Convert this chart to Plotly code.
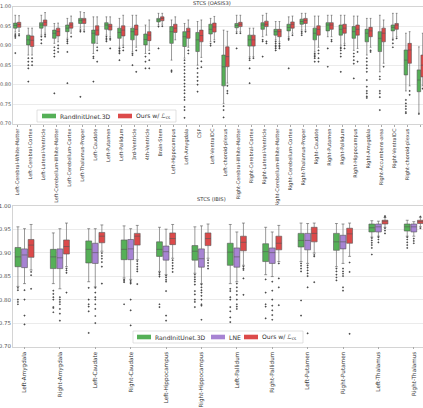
import plotly.graph_objects as go

W, H = 423, 408

# ---- STCS (OASIS3) ----
oasis_labels = ['Left-Cerebral-White-Matter', 'Left-Cerebral-Cortex', 'Left-Lateral-Ventricle',
                'Left-Cerebellum-White-Matter', 'Left-Cerebellum-Cortex', 'Left-Thalamus-Proper',
                'Left-Caudate', 'Left-Putamen', 'Left-Pallidum', '3rd-Ventricle', '4th-Ventricle',
                'Brain-Stem', 'Left-Hippocampus', 'Left-Amygdala', 'CSF', 'Left-VentralDC',
                'Left-choroid-plexus', 'Right-Cerebral-White-Matter', 'Right-Cerebral-Cortex',
                'Right-Lateral-Ventricle', 'Right-Cerebellum-White-Matter', 'Right-Cerebellum-Cortex',
                'Right-Thalamus-Proper', 'Right-Caudate', 'Right-Putamen', 'Right-Pallidum',
                'Right-Hippocampus', 'Right-Amygdala', 'Right-Accumbens-area', 'Right-VentralDC',
                'Right-choroid-plexus', 'WM-hypointensities']

oasis_rand_lo = [0.935, 0.876, 0.927, 0.906, 0.919, 0.945, 0.880, 0.927, 0.896, 0.884, 0.880, 0.953, 0.863, 0.868, 0.850, 0.910,
                 0.752, 0.936, 0.872, 0.923, 0.915, 0.923, 0.940, 0.884, 0.923, 0.901, 0.888, 0.876, 0.833, 0.919, 0.784, 0.727]
oasis_rand_q1 = [0.945, 0.902, 0.945, 0.919, 0.936, 0.957, 0.906, 0.942, 0.919, 0.915, 0.902, 0.961, 0.906, 0.898, 0.885, 0.930,
                 0.797, 0.946, 0.899, 0.942, 0.927, 0.938, 0.955, 0.915, 0.938, 0.927, 0.919, 0.910, 0.885, 0.938, 0.825, 0.782]
oasis_rand_med = [0.952, 0.915, 0.953, 0.932, 0.945, 0.965, 0.932, 0.953, 0.934, 0.936, 0.916, 0.966, 0.936, 0.923, 0.915, 0.942,
                  0.846, 0.952, 0.915, 0.953, 0.936, 0.947, 0.962, 0.932, 0.953, 0.942, 0.936, 0.932, 0.919, 0.947, 0.863, 0.812]
oasis_rand_q3 = [0.958, 0.927, 0.959, 0.940, 0.953, 0.970, 0.940, 0.959, 0.945, 0.945, 0.930, 0.970, 0.949, 0.936, 0.934, 0.955,
                 0.876, 0.957, 0.927, 0.959, 0.942, 0.955, 0.968, 0.945, 0.959, 0.953, 0.949, 0.942, 0.936, 0.953, 0.889, 0.838]
oasis_rand_hi = [0.978, 0.945, 0.978, 0.957, 0.970, 0.987, 0.974, 0.974, 0.970, 0.978, 0.953, 0.983, 0.966, 0.957, 0.962, 0.970,
                 0.940, 0.978, 0.945, 0.978, 0.962, 0.974, 0.983, 0.976, 0.978, 0.978, 0.976, 0.970, 0.978, 0.983, 0.932, 0.897]
oasis_rand_out = [[0.930, 0.927, 0.924, 0.920, 0.881], [0.868, 0.859, 0.850, 0.842, 0.808], [0.923, 0.915, 0.906],
                  [0.896, 0.888, 0.880, 0.872, 0.778], [0.915, 0.911, 0.906, 0.884, 0.804], [0.940, 0.936, 0.769],
                  [0.872, 0.868, 0.808], [0.923, 0.919, 0.915, 0.911], [0.893, 0.888, 0.884, 0.880, 0.863],
                  [0.880, 0.876, 0.850], [0.872, 0.859, 0.842], [0.949, 0.893], [0.837, 0.833],
                  [0.863, 0.855, 0.846, 0.838, 0.829, 0.820, 0.812, 0.803, 0.795, 0.786, 0.778, 0.768, 0.761, 0.743, 0.735, 0.715],
                  [0.842, 0.830, 0.820, 0.810, 0.800, 0.782], [0.905, 0.900], [0.745, 0.735, 0.716], [0.932, 0.893],
                  [0.868, 0.863, 0.842, 0.804], [0.915, 0.911, 0.872], [0.911, 0.906, 0.901, 0.897, 0.893, 0.888],
                  [0.919, 0.915, 0.842], [0.936, 0.932, 0.927], [0.880, 0.876, 0.872, 0.868, 0.859], [0.893, 0.846],
                  [0.896, 0.893, 0.888, 0.880, 0.872, 0.833], [0.880, 0.872, 0.863, 0.854, 0.816],
                  [0.868, 0.859, 0.850, 0.842, 0.833, 0.812, 0.795, 0.784, 0.778, 0.770, 0.766],
                  [0.821, 0.814, 0.784, 0.778, 0.768, 0.735], [0.915, 0.906, 0.896],
                  [0.761, 0.752, 0.745, 0.738, 0.730, 0.727], [0.725]]

oasis_ours_lo = [0.937, 0.876, 0.932, 0.910, 0.932, 0.940, 0.906, 0.923, 0.901, 0.896, 0.888, 0.955, 0.915, 0.896, 0.870, 0.915,
                 0.804, 0.936, 0.872, 0.927, 0.911, 0.932, 0.940, 0.896, 0.923, 0.906, 0.893, 0.896, 0.855, 0.923, 0.797, 0.797]
oasis_ours_q1 = [0.947, 0.898, 0.951, 0.925, 0.945, 0.957, 0.927, 0.940, 0.925, 0.927, 0.913, 0.964, 0.934, 0.919, 0.910, 0.935,
                 0.846, 0.949, 0.899, 0.949, 0.923, 0.945, 0.957, 0.927, 0.942, 0.932, 0.927, 0.923, 0.910, 0.942, 0.855, 0.820]
oasis_ours_med = [0.954, 0.914, 0.960, 0.936, 0.953, 0.966, 0.940, 0.949, 0.940, 0.942, 0.927, 0.970, 0.945, 0.936, 0.926, 0.948,
                  0.872, 0.955, 0.915, 0.955, 0.936, 0.955, 0.965, 0.942, 0.953, 0.945, 0.942, 0.938, 0.932, 0.953, 0.889, 0.850]
oasis_ours_q3 = [0.960, 0.925, 0.966, 0.945, 0.959, 0.970, 0.951, 0.955, 0.951, 0.953, 0.936, 0.974, 0.955, 0.945, 0.940, 0.958,
                 0.897, 0.960, 0.927, 0.963, 0.942, 0.961, 0.970, 0.951, 0.959, 0.955, 0.953, 0.947, 0.945, 0.957, 0.906, 0.876]
oasis_ours_hi = [0.977, 0.945, 0.985, 0.958, 0.976, 0.985, 0.974, 0.974, 0.978, 0.978, 0.966, 0.983, 0.974, 0.966, 0.966, 0.975,
                 0.937, 0.978, 0.945, 0.983, 0.962, 0.976, 0.983, 0.976, 0.978, 0.978, 0.976, 0.970, 0.966, 0.983, 0.936, 0.932]
oasis_ours_out = [[0.930, 0.926], [0.868, 0.859, 0.850], [0.928, 0.923], [0.901, 0.893, 0.884], [0.923], [0.936],
                  [0.896, 0.888, 0.859], [0.919, 0.915, 0.893], [0.896, 0.888], [0.888, 0.833], [0.880, 0.863, 0.842],
                  [0.950], [], [0.888, 0.880], [0.860, 0.845], [0.910], [0.797, 0.784, 0.778], [0.932], [0.868],
                  [0.911, 0.906], [0.906, 0.901, 0.897, 0.893], [0.927], [0.936], [0.888, 0.880, 0.868, 0.859],
                  [0.915, 0.911], [0.901, 0.893], [0.884, 0.859], [0.888, 0.884], [0.846], [0.919], [0.784, 0.774], [0.790]]

# ---- STCS (IBIS) ----
ibis_labels = ['Left-Amygdala', 'Right-Amygdala', 'Left-Caudate', 'Right-Caudate', 'Left-Hippocampus',
               'Right-Hippocampus', 'Left-Pallidum', 'Right-Pallidum', 'Left-Putamen', 'Right-Putamen',
               'Left-Thalamus', 'Right-Thalamus']

ibis_rand_lo = [0.828, 0.834, 0.838, 0.846, 0.860, 0.856, 0.834, 0.853, 0.881, 0.870, 0.933, 0.935]
ibis_rand_q1 = [0.870, 0.866, 0.878, 0.885, 0.892, 0.884, 0.873, 0.881, 0.912, 0.905, 0.944, 0.946]
ibis_rand_med = [0.891, 0.891, 0.907, 0.907, 0.907, 0.903, 0.901, 0.902, 0.926, 0.923, 0.953, 0.955]
ibis_rand_q3 = [0.911, 0.907, 0.925, 0.927, 0.923, 0.915, 0.920, 0.919, 0.941, 0.941, 0.961, 0.961]
ibis_rand_hi = [0.955, 0.942, 0.951, 0.957, 0.954, 0.955, 0.960, 0.954, 0.963, 0.962, 0.968, 0.969]
ibis_rand_out = [[0.825, 0.820, 0.800, 0.795, 0.790], [0.819, 0.812, 0.805, 0.800, 0.784, 0.782, 0.773],
                 [0.825, 0.800, 0.790, 0.785, 0.775, 0.729], [0.843, 0.840, 0.837, 0.790],
                 [0.857, 0.853, 0.849, 0.790, 0.784],
                 [0.853, 0.848, 0.843, 0.838, 0.832, 0.818, 0.811, 0.800, 0.795, 0.784],
                 [0.823, 0.818, 0.805, 0.800, 0.784, 0.775, 0.762, 0.752], [0.843, 0.815, 0.790, 0.785, 0.760],
                 [0.877, 0.872, 0.866, 0.860, 0.798, 0.766], [0.866, 0.860, 0.853, 0.847, 0.841],
                 [0.931, 0.926, 0.921, 0.916, 0.910, 0.896], [0.933, 0.928, 0.922, 0.916, 0.910]]

ibis_lne_lo = [0.834, 0.823, 0.827, 0.843, 0.853, 0.834, 0.838, 0.849, 0.877, 0.877, 0.935, 0.935]
ibis_lne_q1 = [0.868, 0.866, 0.877, 0.885, 0.884, 0.869, 0.869, 0.877, 0.906, 0.908, 0.944, 0.944]
ibis_lne_med = [0.895, 0.889, 0.900, 0.908, 0.902, 0.887, 0.891, 0.900, 0.926, 0.923, 0.955, 0.955]
ibis_lne_q3 = [0.908, 0.908, 0.920, 0.928, 0.914, 0.908, 0.910, 0.910, 0.941, 0.937, 0.961, 0.961]
ibis_lne_hi = [0.951, 0.951, 0.951, 0.951, 0.950, 0.957, 0.944, 0.944, 0.962, 0.961, 0.967, 0.966]
ibis_lne_out = [[0.820, 0.800, 0.766, 0.747], [0.805, 0.800, 0.795, 0.790, 0.780, 0.770, 0.755],
                [0.825, 0.815, 0.805, 0.800, 0.790, 0.780, 0.765, 0.750], [0.840, 0.837, 0.834, 0.800, 0.777, 0.745],
                [0.851, 0.847, 0.842, 0.838, 0.818, 0.766, 0.755],
                [0.832, 0.826, 0.820, 0.815, 0.808, 0.800, 0.790, 0.787, 0.757],
                [0.834, 0.826, 0.818, 0.810, 0.800, 0.790, 0.785, 0.780],
                [0.838, 0.819, 0.800, 0.787, 0.777, 0.767, 0.757],
                [0.873, 0.868, 0.862, 0.856, 0.850, 0.826, 0.728], [0.866, 0.860, 0.855, 0.850, 0.826, 0.819],
                [0.933, 0.928, 0.922], [0.930, 0.925, 0.920]]

ibis_ours_lo = [0.863, 0.870, 0.903, 0.885, 0.888, 0.888, 0.873, 0.881, 0.899, 0.892, 0.954, 0.955]
ibis_ours_q1 = [0.890, 0.897, 0.921, 0.916, 0.917, 0.915, 0.904, 0.906, 0.923, 0.920, 0.961, 0.962]
ibis_ours_med = [0.916, 0.913, 0.935, 0.935, 0.930, 0.930, 0.922, 0.920, 0.941, 0.940, 0.967, 0.966]
ibis_ours_q3 = [0.928, 0.927, 0.943, 0.941, 0.942, 0.942, 0.935, 0.935, 0.954, 0.952, 0.969, 0.969]
ibis_ours_hi = [0.960, 0.963, 0.959, 0.958, 0.960, 0.961, 0.963, 0.958, 0.963, 0.963, 0.975, 0.975]
ibis_ours_out = [[0.859, 0.852, 0.823], [0.866, 0.862, 0.857, 0.815], [0.899, 0.893, 0.887, 0.880, 0.870, 0.834],
                 [0.882, 0.876, 0.870, 0.865, 0.860, 0.833], [0.884, 0.878, 0.872, 0.866, 0.859],
                 [0.884, 0.878, 0.872, 0.866], [0.870, 0.866, 0.863, 0.845, 0.810], [0.877, 0.845, 0.826, 0.788],
                 [0.895, 0.892, 0.837], [0.879, 0.859, 0.727], [0.978, 0.976, 0.952, 0.947, 0.941], [0.977, 0.952]]

GREEN = '#55b057'
PURPLE = '#a783d3'
RED = '#dc4a4a'
EDGE = '#555555'
FONT = 'DejaVu Sans'


def px_x(x):
    return x / W


def px_y(y):
    return 1 - y / H


def add_series(fig, xaxis, yaxis, offset, width, color, lo, q1, med, q3, hi, out):
    n = len(med)
    pos = [i + offset for i in range(n)]
    fig.add_trace(go.Box(x=pos, lowerfence=lo, q1=q1, median=med, q3=q3, upperfence=hi,
                         width=width, whiskerwidth=0.5, fillcolor=color,
                         line=dict(color=EDGE, width=0.6), boxpoints=False,
                         showlegend=False, xaxis=xaxis, yaxis=yaxis))
    # Ausreisser als kleine Rauten
    ox, oy = [], []
    for i, vals in enumerate(out):
        for v in vals:
            ox.append(i + offset)
            oy.append(v)
    fig.add_trace(go.Scatter(x=ox, y=oy, mode='markers', showlegend=False,
                             marker=dict(symbol='diamond', size=1.7, color='#4a4a4a'),
                             xaxis=xaxis, yaxis=yaxis))


fig = go.Figure()

# oberer Plot: zwei Serien
add_series(fig, 'x', 'y', -0.145, 0.27, GREEN, oasis_rand_lo, oasis_rand_q1, oasis_rand_med,
           oasis_rand_q3, oasis_rand_hi, oasis_rand_out)
add_series(fig, 'x', 'y', 0.145, 0.27, RED, oasis_ours_lo, oasis_ours_q1, oasis_ours_med,
           oasis_ours_q3, oasis_ours_hi, oasis_ours_out)

# unterer Plot: drei Serien
add_series(fig, 'x2', 'y2', -0.186, 0.165, GREEN, ibis_rand_lo, ibis_rand_q1, ibis_rand_med,
           ibis_rand_q3, ibis_rand_hi, ibis_rand_out)
add_series(fig, 'x2', 'y2', 0.0, 0.165, PURPLE, ibis_lne_lo, ibis_lne_q1, ibis_lne_med,
           ibis_lne_q3, ibis_lne_hi, ibis_lne_out)
add_series(fig, 'x2', 'y2', 0.186, 0.165, RED, ibis_ours_lo, ibis_ours_q1, ibis_ours_med,
           ibis_ours_q3, ibis_ours_hi, ibis_ours_out)

yax = dict(range=[0.70, 1.00], dtick=0.05, tickformat='.2f', showgrid=True, gridcolor='#ebebeb',
           gridwidth=0.8, zeroline=False, showline=True, mirror=True, linecolor='#d4d4d4', linewidth=0.8,
           ticks='', automargin=False, tickfont=dict(size=5, color='#555555', family=FONT))
xax = dict(type='linear', showgrid=False, zeroline=False, showline=True, mirror=True,
           linecolor='#d4d4d4', linewidth=0.8, ticks='outside', ticklen=2, tickcolor='#aaaaaa',
           tickwidth=0.6, tickangle=-90, automargin=False)

fig.update_layout(
    width=W, height=H,
    margin=dict(l=0, r=0, t=0, b=0),
    paper_bgcolor='white', plot_bgcolor='white',
    font=dict(family=FONT, color='#333333'),
    boxmode='overlay',
    xaxis=dict(xax, domain=[px_x(13), 1], anchor='y', range=[-0.32, 31.17],
               tickvals=list(range(len(oasis_labels))), ticktext=oasis_labels,
               tickfont=dict(size=5, color='#333333', family=FONT)),
    yaxis=dict(yax, domain=[px_y(123.7), px_y(6.7)], anchor='x'),
    xaxis2=dict(xax, domain=[px_x(13), 1], anchor='y2', range=[-0.325, 11.26],
                tickvals=list(range(len(ibis_labels))), ticktext=ibis_labels,
                tickfont=dict(size=5.7, color='#333333', family=FONT)),
    yaxis2=dict(yax, domain=[px_y(346.5), px_y(205.7)], anchor='x2',
                tickfont=dict(size=5.5, color='#555555', family=FONT)),
)

annotations = [
    dict(text='STCS (OASIS3)', x=px_x(212), y=px_y(2.6), xref='paper', yref='paper',
         showarrow=False, xanchor='center', yanchor='middle', font=dict(size=5.2, color='#333333')),
    dict(text='STCS (IBIS)', x=px_x(212), y=px_y(198.5), xref='paper', yref='paper',
         showarrow=False, xanchor='center', yanchor='middle', font=dict(size=5.2, color='#333333')),
]
shapes = []


def legend_box(x0, x1, yc, items):
    shapes.append(dict(type='rect', xref='paper', yref='paper', x0=px_x(x0), x1=px_x(x1),
                       y0=px_y(yc + 6), y1=px_y(yc - 6), fillcolor='rgba(255,255,255,0.85)',
                       line=dict(color='#cccccc', width=0.6)))
    for px0, color, text in items:
        shapes.append(dict(type='rect', xref='paper', yref='paper', x0=px_x(px0), x1=px_x(px0 + 14),
                           y0=px_y(yc + 2.3), y1=px_y(yc - 2.3), fillcolor=color, line=dict(width=0)))
        annotations.append(dict(text=text, x=px_x(px0 + 16), y=px_y(yc), xref='paper', yref='paper',
                                showarrow=False, xanchor='left', yanchor='middle',
                                font=dict(size=6.1, color='#333333')))


legend_box(37, 176, 116, [(42, GREEN, 'RandInitUnet.3D'), (118, RED, 'Ours w/ ℒ<sub>cs</sub>')])
legend_box(133, 303, 337, [(137, GREEN, 'RandInitUnet.3D'), (211, PURPLE, 'LNE'),
                           (244, RED, 'Ours w/ ℒ<sub>cs</sub>')])

fig.update_layout(annotations=annotations, shapes=shapes)

# Seitenrand des Browsers entfernen, damit die Grafik genau im Fenster sitzt
fig.write_html("out.html", config={'displayModeBar': False},
               post_script="document.body.style.margin='0px';")
